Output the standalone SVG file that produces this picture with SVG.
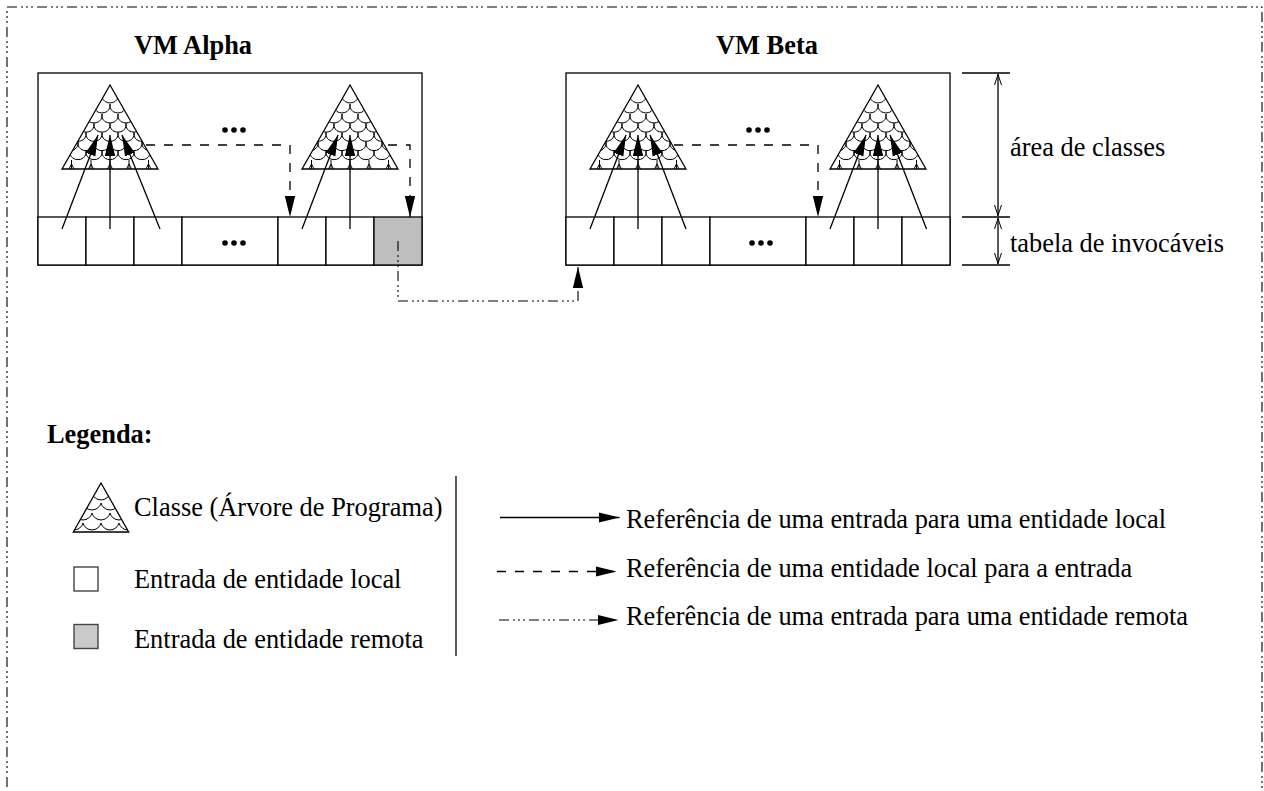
<svg xmlns="http://www.w3.org/2000/svg" width="1264" height="791" viewBox="0 0 1264 791">
<style>
text{font-family:"Liberation Serif","Times New Roman",serif;font-size:26.4px;fill:#000}
.b{font-weight:bold}
.l{fill:none;stroke:#000;stroke-width:1.3}
.s{fill:none;stroke:#000;stroke-width:1}
.d{stroke-dasharray:9 9}
.dd{stroke-dasharray:10 4 2 3 2 3 2 4;stroke-width:1.1}
.c{fill:#fff;stroke:#000;stroke-width:1.3}
.g{fill:#bebebe;stroke:#000;stroke-width:1.3}
.k{fill:#fff;stroke:#444;stroke-width:1.4}
.kg{fill:#cacaca;stroke:#444;stroke-width:1.4}
</style>
<defs>
<marker id="a" markerUnits="userSpaceOnUse" markerWidth="22" markerHeight="12" refX="21" refY="6" orient="auto"><path d="M0 .8L21 6L0 11.200Z" fill="#000"/></marker>
<marker id="t" markerUnits="userSpaceOnUse" markerWidth="12" markerHeight="10" refX="11" refY="4" orient="auto-start-reverse"><path d="M0 .5L10.500 4L0 7.500" fill="none" stroke="#000"/></marker>
<clipPath id="cb"><path d="M0 0L48 84H-48Z"/></clipPath>
<clipPath id="cs"><path d="M0 0L27.700 49H-27.700Z"/></clipPath>
<path id="sc" d="M-8 -6A8.500 8.500 0 0 0 8 -6M-8 -6V-9.300M8 -6V-9.300" class="s"/>
<path id="ss" d="M-9 -7A9.300 9.300 0 0 0 9 -7" class="s"/>
<g id="tri">
<g clip-path="url(#cb)">
<use href="#sc" y="18.300"/>
<use href="#sc" x="-8" y="28.300"/><use href="#sc" x="8" y="28.300"/>
<use href="#sc" x="-16" y="38.300"/><use href="#sc" y="38.300"/><use href="#sc" x="16" y="38.300"/>
<use href="#sc" x="-24" y="47.500"/><use href="#sc" x="-8" y="47.500"/><use href="#sc" x="8" y="47.500"/><use href="#sc" x="24" y="47.500"/>
<use href="#sc" x="-32" y="56.700"/><use href="#sc" x="-16" y="56.700"/><use href="#sc" y="56.700"/><use href="#sc" x="16" y="56.700"/><use href="#sc" x="32" y="56.700"/>
<use href="#sc" x="-40" y="66"/><use href="#sc" x="-24" y="66"/><use href="#sc" x="-8" y="66"/><use href="#sc" x="8" y="66"/><use href="#sc" x="24" y="66"/><use href="#sc" x="40" y="66"/>
<use href="#sc" x="-48" y="75"/><use href="#sc" x="-32" y="75"/><use href="#sc" x="-16" y="75"/><use href="#sc" y="75"/><use href="#sc" x="16" y="75"/><use href="#sc" x="32" y="75"/><use href="#sc" x="48" y="75"/>
<path class="s" d="M-38.500 84V75M-19 84V75M0 84V75M19 84V75M38.500 84V75M-41 84L-38.500 79L-36 84M-21.500 84L-19 79L-16.500 84M-2.500 84L0 79L2.500 84M16.500 84L19 79L21.500 84M36 84L38.500 79L41 84"/>
</g>
<path class="l" d="M0 0L48 84H-48Z"/>
</g>
<g id="tris">
<g clip-path="url(#cs)">
<use href="#ss" y="17"/>
<use href="#ss" x="-9" y="27"/><use href="#ss" x="9" y="27"/>
<use href="#ss" x="-18" y="37"/><use href="#ss" y="37"/><use href="#ss" x="18" y="37"/>
<use href="#ss" x="-27" y="47"/><use href="#ss" x="-9" y="47"/><use href="#ss" x="9" y="47"/><use href="#ss" x="27" y="47"/>
</g>
<path class="l" d="M0 0L27.700 49H-27.700Z"/>
</g>
<g id="dots"><circle cx="-9" r="2.800"/><circle r="2.800"/><circle cx="9" r="2.800"/></g>
</defs>

<rect x="7" y="7" width="1255" height="800" class="l dd"/>

<g id="vm-alpha">
<text class="b" x="134" y="54">VM Alpha</text>
<rect class="c" x="38" y="73" width="384" height="192"/>
<use href="#tri" x="110" y="85"/>
<use href="#tri" x="350" y="85"/>
<use href="#dots" x="234" y="130"/>
<rect class="c" x="38" y="217" width="48" height="48"/>
<rect class="c" x="86" y="217" width="48" height="48"/>
<rect class="c" x="134" y="217" width="48" height="48"/>
<rect class="c" x="182" y="217" width="96" height="48"/>
<rect class="c" x="278" y="217" width="48" height="48"/>
<rect class="c" x="326" y="217" width="48" height="48"/>
<rect class="g" x="374" y="217" width="48" height="48"/>
<use href="#dots" x="234" y="243"/>
</g>

<g id="vm-beta">
<text class="b" x="716" y="54">VM Beta</text>
<rect class="c" x="566" y="73" width="384" height="192"/>
<use href="#tri" x="638" y="85"/>
<use href="#tri" x="878" y="85"/>
<use href="#dots" x="758" y="130"/>
<rect class="c" x="566" y="217" width="48" height="48"/>
<rect class="c" x="614" y="217" width="48" height="48"/>
<rect class="c" x="662" y="217" width="48" height="48"/>
<rect class="c" x="710" y="217" width="96" height="48"/>
<rect class="c" x="806" y="217" width="48" height="48"/>
<rect class="c" x="854" y="217" width="48" height="48"/>
<rect class="c" x="902" y="217" width="48" height="48"/>
<use href="#dots" x="761" y="243"/>
</g>

<g id="connectors">
<path class="l" marker-end="url(#a)" d="M62 229L98 135"/>
<path class="l" marker-end="url(#a)" d="M110 229V135"/>
<path class="l" marker-end="url(#a)" d="M160 229L122 135"/>
<path class="l" marker-end="url(#a)" d="M302 229L338 135"/>
<path class="l" marker-end="url(#a)" d="M350 229V135"/>
<path class="l" marker-end="url(#a)" d="M590 229L626 135"/>
<path class="l" marker-end="url(#a)" d="M638 229V135"/>
<path class="l" marker-end="url(#a)" d="M686 229L650 135"/>
<path class="l" marker-end="url(#a)" d="M830 229L866 135"/>
<path class="l" marker-end="url(#a)" d="M878 229V135"/>
<path class="l" marker-end="url(#a)" d="M926.500 229L890 135"/>
<path class="l d" marker-end="url(#a)" d="M146 145H290V217"/>
<path class="l d" marker-end="url(#a)" d="M388 145H410V217"/>
<path class="l d" marker-end="url(#a)" d="M674 145H818V217"/>
<path class="l dd" marker-end="url(#a)" d="M398 241V301H578V267"/>
<path class="l" marker-end="url(#a)" d="M500 517.500H619.500"/>
<path class="l d" marker-end="url(#a)" d="M497 571.500H616.500"/>
<path class="l dd" marker-end="url(#a)" d="M499 620H618.500"/>
<path class="l" d="M456 476V656"/>
<path class="l" d="M962 73H1010M962 217H1010M962 265H1010"/>
<path class="l" marker-start="url(#t)" marker-end="url(#t)" d="M998 74V216"/>
<path class="l" marker-start="url(#t)" marker-end="url(#t)" d="M998 218V264"/>
</g>

<g id="legend">
<text class="b" x="47" y="443">Legenda:</text>
<use href="#tris" x="101" y="483"/>
<text x="134" y="516">Classe (Árvore de Programa)</text>
<rect class="k" x="74" y="567" width="24" height="24"/>
<text x="134" y="588">Entrada de entidade local</text>
<rect class="kg" x="74" y="624.500" width="24" height="24"/>
<text x="134" y="648">Entrada de entidade remota</text>
<text x="626" y="528">Referência de uma entrada para uma entidade local</text>
<text x="626" y="577">Referência de uma entidade local para a entrada</text>
<text x="626" y="625">Referência de uma entrada para uma entidade remota</text>
</g>
<g id="labels">
<text x="1010" y="156">área de classes</text>
<text x="1010" y="252">tabela de invocáveis</text>
</g>
</svg>
